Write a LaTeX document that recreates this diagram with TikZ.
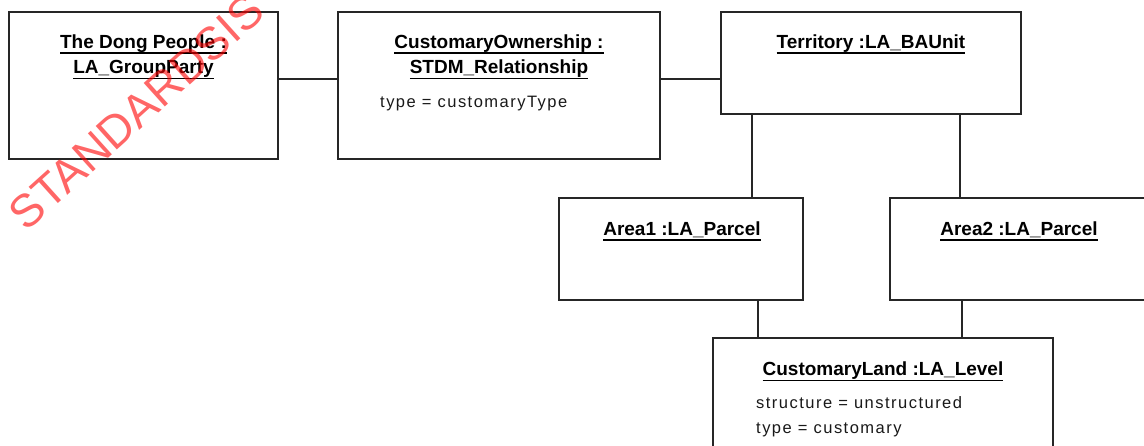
\documentclass[tikz,border=0pt]{standalone}
\usepackage{fontspec}
\setmainfont{Liberation Sans}
\newcommand\ulbox[1]{\setbox0=\hbox{#1}\rlap{\rule[-5.4pt]{\wd0}{1.8pt}}\box0}
\begin{document}
\begin{tikzpicture}[x=1pt,y=-1pt,
  objbox/.style={draw=black!85, line width=1.6pt, rectangle, inner sep=0pt, fill=white},
  conn/.style={draw=black!85, line width=1.6pt},
  title/.style={anchor=base, inner sep=0pt, font=\fontsize{19}{23}\selectfont\bfseries},
  attr/.style={anchor=base west, inner sep=0pt, text=black!90, font=\addfontfeature{LetterSpace=9}\fontsize{16.5}{20}\selectfont},
  wmark/.style={rotate=42, text=red, opacity=0.6, inner sep=0pt, font=\fontsize{46}{46}\selectfont}]
\useasboundingbox (0,0) rectangle (1144,446);
\clip (0,0) rectangle (1144,446);
% boxes
\node[objbox, minimum width=269pt, minimum height=147pt] (b1) at (143.5,85.5) {};
\node[objbox, minimum width=322pt, minimum height=147pt] (b2) at (499,85.5) {};
\node[objbox, minimum width=300pt, minimum height=102pt] (t) at (871,63) {};
\node[objbox, minimum width=244pt, minimum height=102pt] (a1) at (681,249) {};
\node[objbox, minimum width=258pt, minimum height=102pt] (a2) at (1019,249) {};
\node[objbox, minimum width=340pt, minimum height=132pt] (cl) at (883,404) {};
% connectors
\draw[conn] ([yshift=6.5pt]b1.east) -- ([yshift=6.5pt]b1.east -| b2.west);
\draw[conn] ([yshift=6.5pt]b2.east) -- ([yshift=6.5pt]b2.east -| t.west);
\draw[conn] ([xshift=71pt]a1.north) -- ([xshift=71pt]a1.north |- t.south);
\draw[conn] ([xshift=-59pt]a2.north) -- ([xshift=-59pt]a2.north |- t.south);
\draw[conn] ([xshift=77pt]a1.south) -- ([xshift=77pt]a1.south |- cl.north);
\draw[conn] ([xshift=-57pt]a2.south) -- ([xshift=-57pt]a2.south |- cl.north);
% texts
\node[title] (b1l1) at (143.5,48.5) {\ulbox{The Dong People :}};
\node[title] (b1l2) at (143.5,74) {\ulbox{LA\_GroupParty}};
\node[title] (b2l1) at (499,48.5) {\ulbox{CustomaryOwnership :}};
\node[title] (b2l2) at (499,74) {\ulbox{STDM\_Relationship}};
\node[attr] (b2a) at (380,108) {type = customaryType};
\node[title] (tl) at (871,48.5) {\ulbox{Territory :LA\_BAUnit}};
\node[title] (a1l) at (682,235.5) {\ulbox{Area1 :LA\_Parcel}};
\node[title] (a2l) at (1019,235.5) {\ulbox{Area2 :LA\_Parcel}};
\node[title] (cll) at (883,376) {\ulbox{CustomaryLand :LA\_Level}};
\node[attr] (cla1) at (756,409) {structure = unstructured};
\node[attr] (cla2) at (756,434) {type = customary};
% watermark
\node[wmark] (wm) at (136,112) {STANDARDSIS};
\end{tikzpicture}
\end{document}
